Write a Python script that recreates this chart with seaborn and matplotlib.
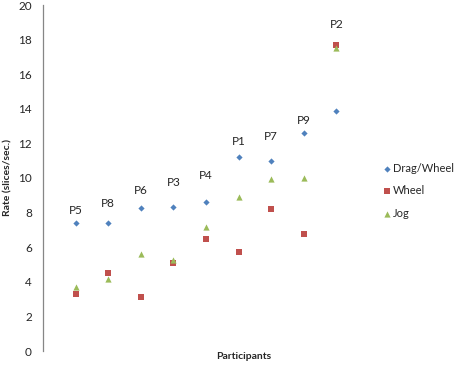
import pandas as pd
import matplotlib.pyplot as plt
import seaborn as sns

# participants in plotted order (left to right)
participants = ["P5", "P8", "P6", "P3", "P4", "P1", "P7", "P9", "P2"]
drag_wheel = [7.4, 7.4, 8.25, 8.3, 8.6, 11.2, 11.0, 12.6, 13.9]
wheel = [3.3, 4.5, 3.15, 5.1, 6.45, 5.7, 8.2, 6.75, 17.7]
jog = [3.7, 4.15, 5.6, 5.25, 7.15, 8.9, 9.95, 10.0, 17.5]
# height of the participant name labels (data units)
label_y = [8.15, 8.55, 9.3, 9.75, 10.15, 12.1, 12.4, 13.35, 18.9]
yticks = list(range(0, 21, 2))

series = {"Drag/Wheel": drag_wheel, "Wheel": wheel, "Jog": jog}
rows = []
for name, vals in series.items():
    for i, v in enumerate(vals):
        rows.append({"x": i + 1, "participant": participants[i], "rate": v, "group": name})
df = pd.DataFrame(rows)

sns.set_style("white")
plt.rcParams["font.family"] = ["Lato", "DejaVu Sans"]

fig = plt.figure(figsize=(4.54, 3.67), dpi=100)
ax = fig.add_axes([43 / 454, 16 / 367, 326 / 454, 346 / 367])

palette = {"Drag/Wheel": "#4F81BD", "Wheel": "#C0504D", "Jog": "#9BBB59"}
markers = {"Drag/Wheel": "D", "Wheel": "s", "Jog": "^"}
sizes = {"Drag/Wheel": 10, "Wheel": 18, "Jog": 20}
for name in series:
    sub = df[df["group"] == name]
    sns.scatterplot(data=sub, x="x", y="rate", color=palette[name], marker=markers[name],
                    s=sizes[name], linewidth=0, ax=ax, label=name, zorder=3)

for i, p in enumerate(participants):
    ax.text(i + 1, label_y[i], p, ha="center", va="center", fontsize=8.5)

ax.set_xlim(0, 10)
ax.set_ylim(0, 20)
ax.set_yticks(yticks)
ax.set_xticks([])
ax.tick_params(axis="y", labelsize=8.5, length=0, pad=8)
for s in ["top", "right", "bottom"]:
    ax.spines[s].set_visible(False)
ax.spines["left"].set_color("#868686")
ax.spines["left"].set_linewidth(0.9)

ax.set_xlabel("Participants", fontsize=7.5, fontweight="bold")
ax.set_ylabel("Rate (slices/sec.)", fontsize=7.5, fontweight="bold", labelpad=4)
ax.xaxis.set_label_coords((244 - 43) / 326, -0.004)

ax.legend(loc="upper left", bbox_to_anchor=(376 / 454, 1 - 157 / 367),
          bbox_transform=fig.transFigure, frameon=False, fontsize=8,
          handletextpad=0.0, labelspacing=1.05, handlelength=1.0, borderpad=0)

fig.savefig("out.png", dpi=100)
